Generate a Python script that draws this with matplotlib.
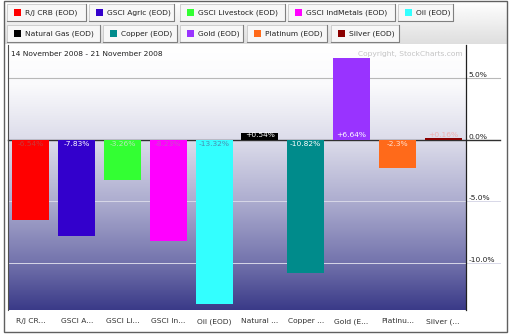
import matplotlib
matplotlib.use('Agg')
import matplotlib.pyplot as plt
import numpy as np
from matplotlib.patches import Rectangle
from matplotlib.lines import Line2D

# data
names = ['R/J CRB (EOD)', 'GSCI Agric (EOD)', 'GSCI Livestock (EOD)', 'GSCI IndMetals (EOD)',
         'Oil (EOD)', 'Natural Gas (EOD)', 'Copper (EOD)', 'Gold (EOD)', 'Platinum (EOD)', 'Silver (EOD)']
short_names = ['R/J CR...', 'GSCI A...', 'GSCI Li...', 'GSCI In...', 'Oil (EOD)',
               'Natural ...', 'Copper ...', 'Gold (E...', 'Platinu...', 'Silver (...']
changes = [-6.54, -7.83, -3.26, -8.23, -13.32, 0.54, -10.82, 6.64, -2.3, 0.16]
value_labels = ['-6.54%', '-7.83%', '-3.26%', '-8.23%', '-13.32%', '+0.54%', '-10.82%', '+6.64%', '-2.3%', '+0.16%']
yticks = [5, 0, -5, -10]
ytick_labels = ['5.0%', '0.0%', '-5.0%', '-10.0%']
date_range = '14 November 2008 - 21 November 2008'

colors = ['#ff0000', '#3300cc', '#33ff33', '#ff00ff', '#33ffff',
          '#000000', '#008b8b', '#9933ff', '#ff6a1a', '#8b0000']
text_colors = ['#c83a3a', '#ffffff', '#b8e8b8', '#c850c8', '#4a8fb0',
               '#ffffff', '#ffffff', '#ffffff', '#ffe0d0', '#f0b0b0']

W, H = 510, 335
FS = 5.4
plt.rcParams['font.family'] = ['DejaVu Sans']

fig = plt.figure(figsize=(W / 100, H / 100), dpi=100)
fig.patch.set_facecolor('white')


def fx(x):
    return x / W


def fy(y):
    return 1 - y / H


# legend strip background (vertical grey gradient)
bg = fig.add_axes([fx(5), fy(44), fx(502), 43 / H], zorder=-5)
strip = np.linspace(1.0, 0.87, 50)[:, None] * np.ones((1, 2))
bg.imshow(strip, cmap='gray', vmin=0, vmax=1, aspect='auto', extent=[0, 1, 0, 1], origin='upper')
bg.axis('off')

# legend buttons
rows = [
    [(7, 86), (89, 174), (180, 285), (288, 395), (398, 453)],
    [(7, 100), (103, 177), (180, 243), (247, 327), (331, 399)],
]
row_y = [(4, 21), (25, 42)]
k = 0
for r, boxes in enumerate(rows):
    y0, y1 = row_y[r]
    for (x0, x1) in boxes:
        fig.add_artist(Rectangle((fx(x0), fy(y1)), fx(x1 - x0), (y1 - y0) / H,
                                 transform=fig.transFigure, facecolor='#f7f7f7',
                                 edgecolor='#c8c8c8', lw=0.6))
        fig.add_artist(Line2D([fx(x0), fx(x1), fx(x1)], [fy(y1), fy(y1), fy(y0)],
                              transform=fig.transFigure, color='#808080', lw=0.8))
        fig.add_artist(Rectangle((fx(x0 + 7), fy((y0 + y1) / 2 + 3.5)), fx(7), 7 / H,
                                 transform=fig.transFigure, facecolor=colors[k], edgecolor='none'))
        fig.text(fx(x0 + 18), fy((y0 + y1) / 2), names[k], fontsize=FS, color='#202020',
                 va='center', ha='left')
        k += 1

# main plot area
ax = fig.add_axes([fx(8), fy(310), fx(466 - 8), (310 - 45) / H])
ymax, ymin = (139.7 - 45) / 12.33, -(310 - 139.7) / 12.33
x = np.arange(len(changes))

# white-to-navy gradient background
px = np.array([45, 85, 140, 200, 260, 310])
cols = np.array([[255, 255, 255], [250, 250, 252], [220, 220, 234],
                 [174, 174, 208], [118, 118, 174], [58, 58, 136]]) / 255
rows_px = np.arange(45, 311)
grad = np.stack([np.interp(rows_px, px, cols[:, c]) for c in range(3)], axis=1)[:, None, :]
ax.imshow(grad, extent=[-0.5, len(changes) - 0.5, ymin, ymax], aspect='auto', origin='upper', zorder=0)

# grid lines that run past the right axis under the labels
for v in yticks:
    if v == 0:
        c, lw = '#303030', 1.0
    elif v > 0:
        c, lw = '#b8b8b8', 0.8
    else:
        c, lw = '#d8d8e8', 0.7
    ax.plot([0, (500 - 8) / 458], [v, v], transform=ax.get_yaxis_transform(),
            color=c, lw=lw, clip_on=False, zorder=1)

ax.bar(x, changes, width=0.81, color=colors, zorder=2)

for i, v in enumerate(changes):
    if v < 0:
        ax.text(x[i], -0.1, value_labels[i], ha='center', va='top', fontsize=FS,
                color=text_colors[i], zorder=3)
    else:
        ax.text(x[i], 0.1, value_labels[i], ha='center', va='bottom', fontsize=FS,
                color=text_colors[i], zorder=3)

ax.set_xlim(-0.5, len(changes) - 0.5)
ax.set_ylim(ymin, ymax)
ax.set_xticks(x)
ax.set_xticklabels(short_names, fontsize=FS, color='#303030')
ax.tick_params(axis='x', length=0, pad=6)
ax.yaxis.tick_right()
ax.set_yticks(yticks)
ax.set_yticklabels(ytick_labels, fontsize=FS, color='#202020')
ax.tick_params(axis='y', length=0, pad=2)
for lbl in ax.get_yticklabels():
    lbl.set_va('bottom')
for s in ['top', 'bottom', 'left']:
    ax.spines[s].set_visible(False)
ax.spines['right'].set_color('#202020')
ax.spines['right'].set_linewidth(0.9)

ax.text(0.006, 0.965, date_range, transform=ax.transAxes, fontsize=FS, color='#202020',
        ha='left', va='center')
ax.text(0.993, 0.965, 'Copyright, StockCharts.com', transform=ax.transAxes, fontsize=FS,
        color='#c4c4c4', ha='right', va='center')

# outer frame and left panel edge
fig.add_artist(Rectangle((fx(4), fy(332)), fx(503), 331 / H, transform=fig.transFigure,
                         facecolor='none', edgecolor='#606060', lw=1.0))
fig.add_artist(Line2D([fx(8), fx(8)], [fy(310), fy(45)], transform=fig.transFigure,
                      color='#505050', lw=0.8))

fig.savefig('out.png', dpi=100)
